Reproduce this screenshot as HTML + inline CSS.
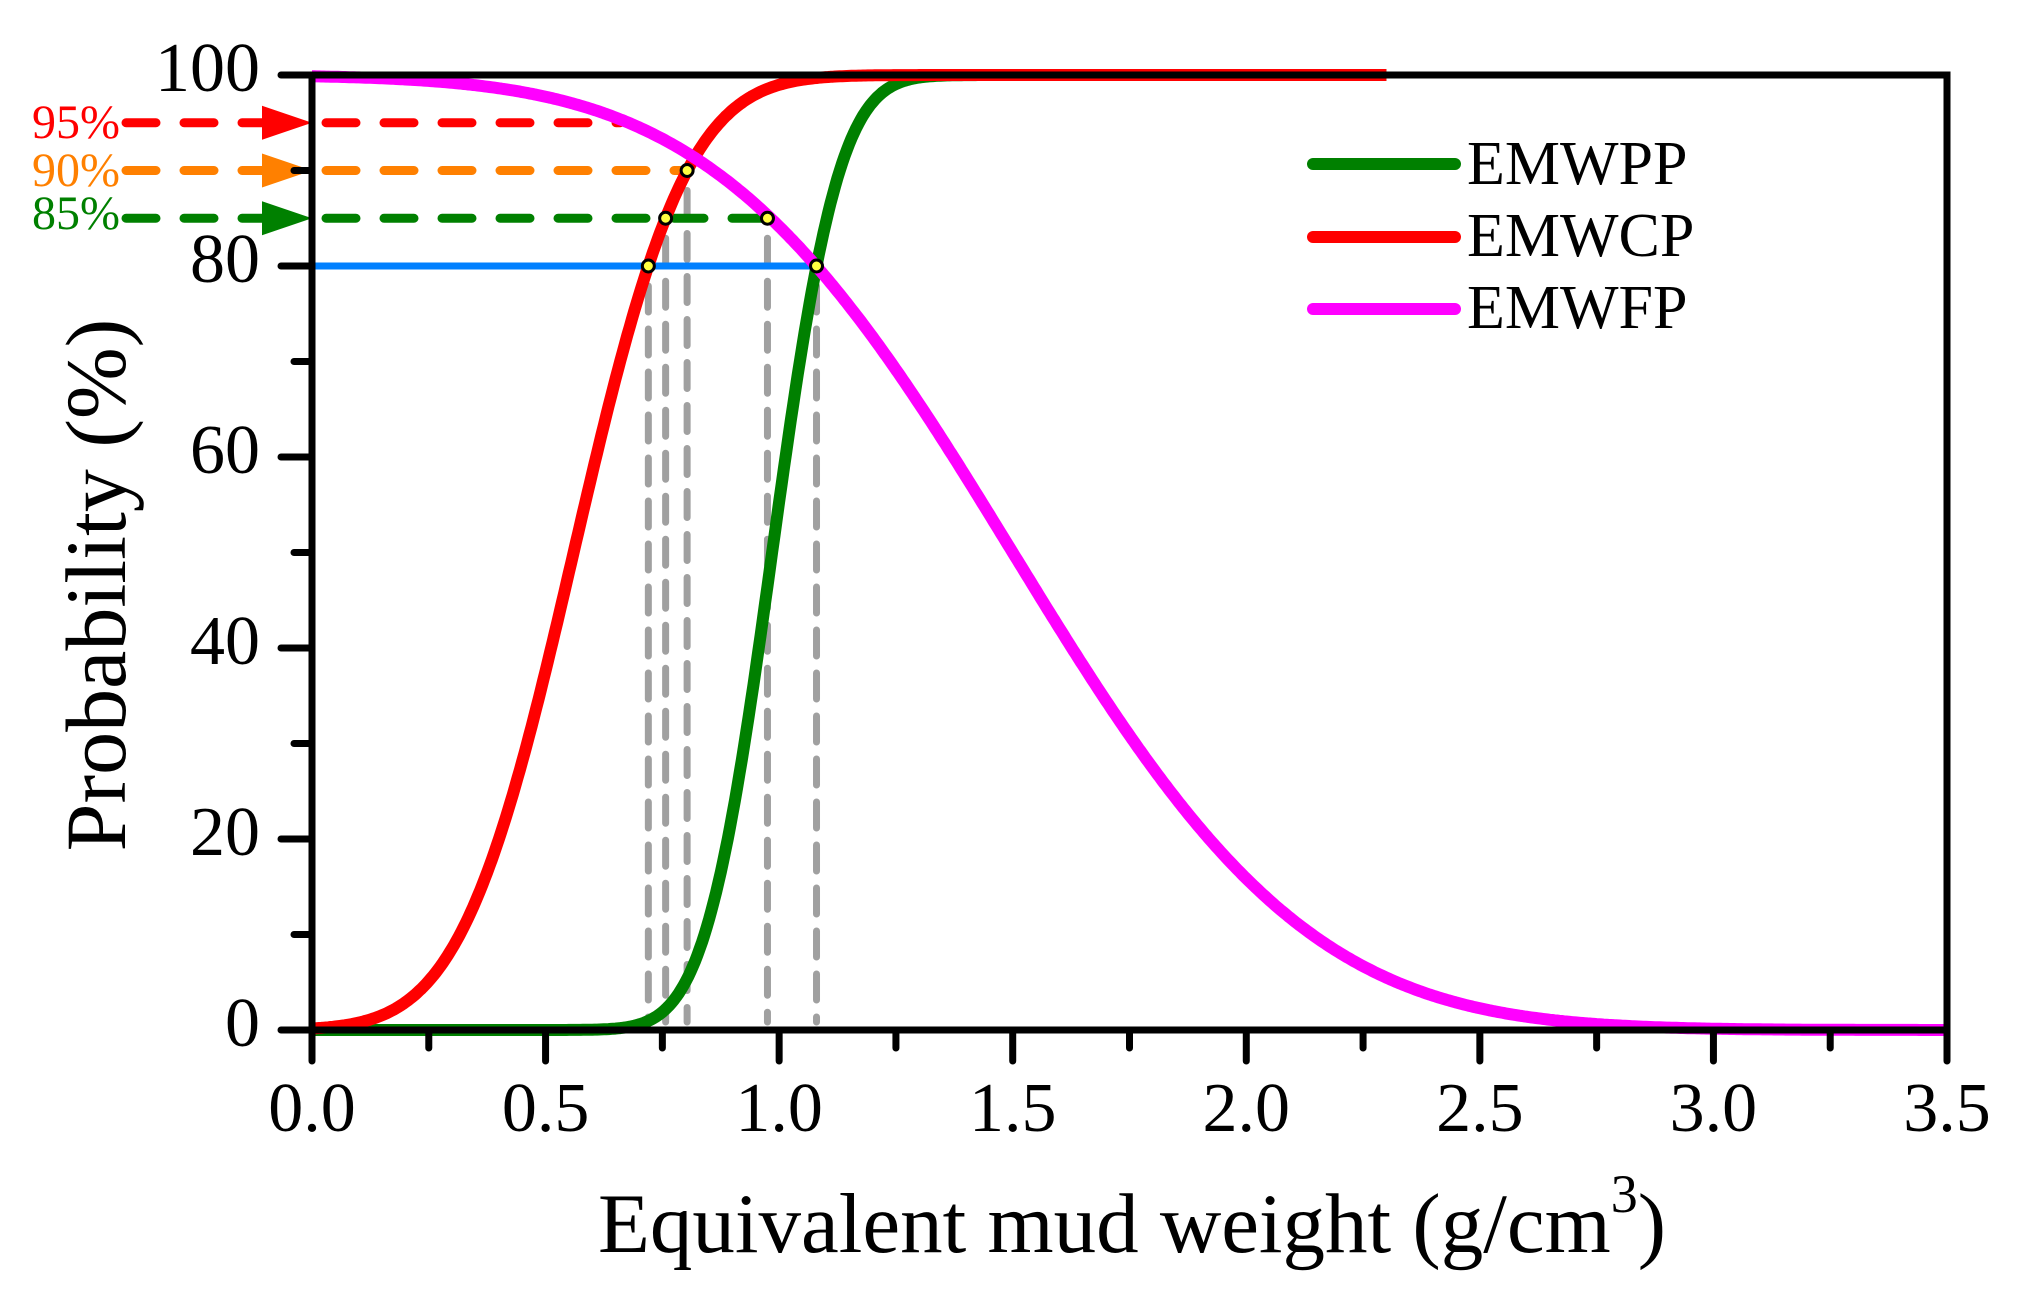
<!DOCTYPE html>
<html><head><meta charset="utf-8"><style>
html,body{margin:0;padding:0;background:#fff;}
svg{display:block;font-family:"Liberation Serif",serif;}
.e{text-anchor:end;}
</style></head><body>
<svg id="s" width="2019" height="1301" viewBox="0 0 2019 1301" xmlns="http://www.w3.org/2000/svg">
<g id="plot"></g>
<rect x="312" y="75" width="1635" height="955" fill="none" stroke="#000" stroke-width="7"/>
<g id="ticks" stroke="#000" stroke-width="7" stroke-linecap="round"></g>
<g font-size="70" fill="#000" id="labels"></g>
<text x="1132" y="1252" font-size="85" text-anchor="middle">Equivalent mud weight (g/cm<tspan font-size="54" dy="-40">3</tspan><tspan dy="40">)</tspan></text>
<text transform="translate(125,585) rotate(-90)" font-size="86" text-anchor="middle">Probability (%)</text>
<g stroke-width="12" stroke-linecap="round">
<line x1="1313" y1="164" x2="1455" y2="164" stroke="#008000"/>
<line x1="1313" y1="237" x2="1455" y2="237" stroke="#ff0000"/>
<line x1="1313" y1="309" x2="1455" y2="309" stroke="#ff00ff"/>
</g>
<g font-size="62"><text x="1467" y="184">EMWPP</text><text x="1467" y="256">EMWCP</text><text x="1467" y="328">EMWFP</text></g>
<g font-size="48">
<text x="32" y="138" fill="#ff0000">95%</text>
<text x="32" y="186" fill="#ff8000">90%</text>
<text x="32" y="229" fill="#008000">85%</text>
</g>
</svg>
<script>
var X0=312,X1=1947,Y0=1030,Y1=75;
function px(x){return X0+x/3.5*(X1-X0);}
function py(p){return Y0-p/100*(Y0-Y1);}
function erf(x){var s=x<0?-1:1;x=Math.abs(x);var t=1/(1+0.3275911*x);var y=1-(((((1.061405429*t-1.453152027)*t)+1.421413741)*t-0.284496736)*t+0.254829592)*t*Math.exp(-x*x);return s*y;}
function cdf(x,m,s){return 0.5*(1+erf((x-m)/(s*Math.SQRT2)));}
var NS="http://www.w3.org/2000/svg";
var plot=document.getElementById('plot');
function el(t,a,par){var e=document.createElementNS(NS,t);for(var k in a)e.setAttribute(k,a[k]);(par||plot).appendChild(e);return e;}
function curve(f,xmax,col){var d="";for(var x=0;x<=xmax+1e-9;x+=0.005){d+=(d?"L":"M")+px(x).toFixed(1)+","+py(f(x)).toFixed(1);}el('path',{d:d,fill:"none",stroke:col,"stroke-width":12,"stroke-linejoin":"round"});}
var vx=[[0.72,80],[0.757,85],[0.803,90],[0.975,85],[1.08,80]];
vx.forEach(function(v){el('line',{x1:px(v[0]),y1:py(v[1])+20,x2:px(v[0]),y2:Y0-8,stroke:"#a0a0a0","stroke-width":7,"stroke-dasharray":"26 17","stroke-linecap":"round"});});
function hd(y,x2,col){el('line',{x1:126,y1:py(y),x2:262,y2:py(y),stroke:col,"stroke-width":9,"stroke-dasharray":"30 28","stroke-linecap":"round"});
el('polygon',{points:"262,"+(py(y)-17)+" 312,"+py(y)+" 262,"+(py(y)+17),fill:col});
el('line',{x1:326,y1:py(y),x2:x2,y2:py(y),stroke:col,"stroke-width":9,"stroke-dasharray":"30 28","stroke-linecap":"round"});}
hd(95,px(0.66),"#ff0000");hd(90,px(0.803),"#ff8000");hd(85,px(0.975),"#008000");
el('line',{x1:312,y1:py(80),x2:px(1.08),y2:py(80),stroke:"#0080ff","stroke-width":7});
curve(function(x){return 100*cdf(x,0.985,0.113);},2.3,"#008000");
curve(function(x){return 100*cdf(x,0.56,0.19);},2.3,"#ff0000");
curve(function(x){return 100*(1-cdf(x,1.5,0.5));},3.5,"#ff00ff");
vx.forEach(function(v){el('circle',{cx:px(v[0]),cy:py(v[1]),r:6,fill:"#ffff40",stroke:"#000","stroke-width":3});});
var tg=document.getElementById('ticks'),lg=document.getElementById('labels');
for(var i=0;i<=14;i++){var x=px(i*0.25);el('line',{x1:x,y1:Y0,x2:x,y2:Y0+(i%2?18:31)},tg);
if(i%2==0){var t=el('text',{x:x,y:1131,"text-anchor":"middle"},lg);t.textContent=(i*0.25).toFixed(1);}}
for(var j=0;j<=10;j++){var y=py(j*10);el('line',{x1:X0,y1:y,x2:X0-(j%2?18:31),y2:y},tg);
if(j%2==0){var t2=el('text',{x:260,y:y+16,"class":"e","text-anchor":"end"},lg);t2.textContent=String(j*10);}}
</script>
</body></html>
